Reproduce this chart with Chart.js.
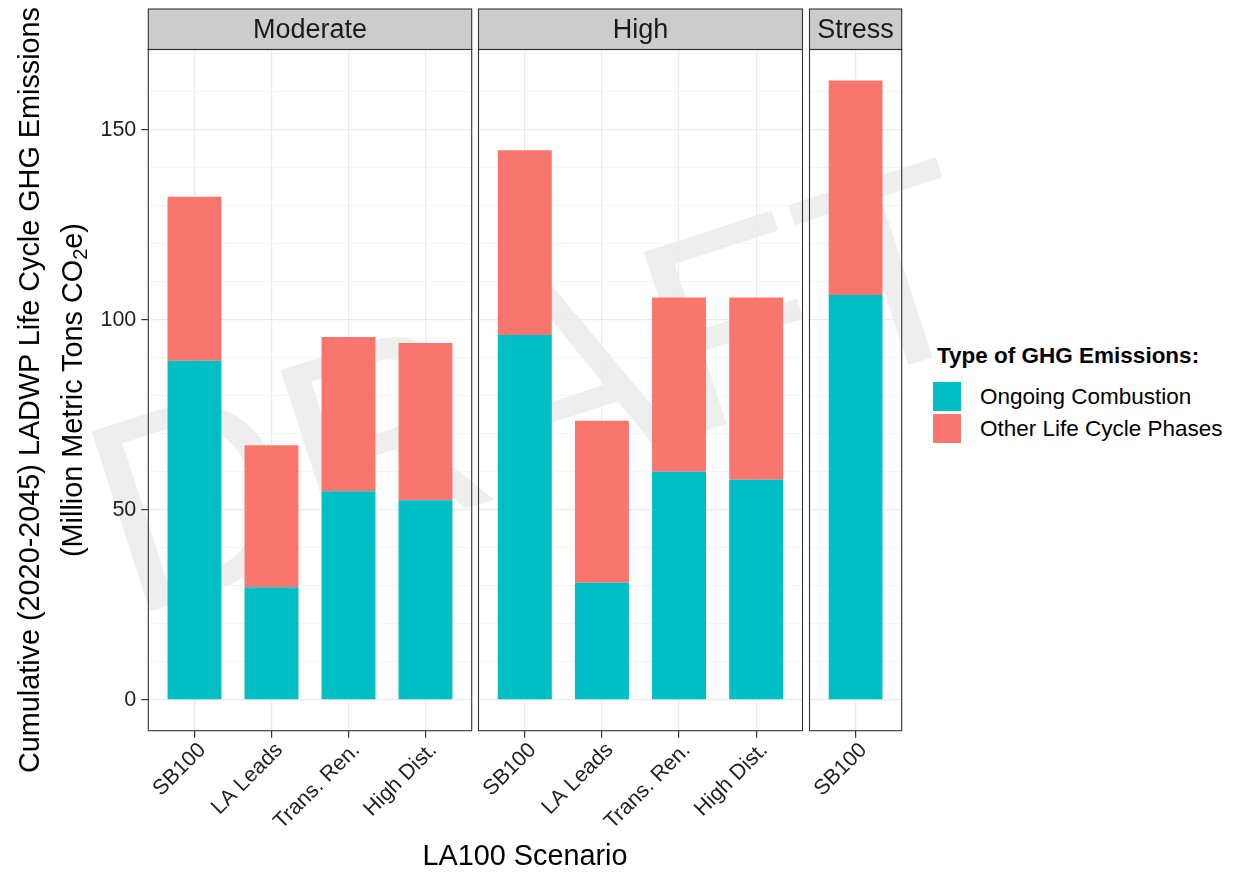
<!DOCTYPE html>
<html>
<head>
<meta charset="utf-8">
<script src="https://cdn.jsdelivr.net/npm/chart.js@4.4.1/dist/chart.umd.min.js"></script>
<style>
  body { margin: 0; width: 1236px; height: 872px; background: #fff; position: relative; overflow: hidden;
         font-family: "Liberation Sans", Arial, sans-serif; }
  canvas { position: absolute; top: 0; }
  #draft { position: absolute; left: 535px; top: 386px; transform: translate(-50%, -50%) rotate(-18deg);
           font-size: 275px; line-height: 1; color: #eeeeee; white-space: nowrap; }
  #ytitle { position: absolute; left: 51px; top: 390px; width: 900px; transform: translate(-50%, -50%) rotate(-90deg);
            text-align: center; font-size: 28.8px; line-height: 43px; color: #000; }
  #ytitle sub { font-size: 0.7em; line-height: 0; vertical-align: -0.25em; }
  #xtitle { position: absolute; left: 525px; top: 855px; transform: translate(-50%, -50%);
            font-size: 28.8px; line-height: 1; white-space: nowrap; }
  #legend-title { position: absolute; left: 937px; top: 345px; font-size: 22.5px; font-weight: bold; line-height: 22px; white-space: nowrap; }
  .sw { position: absolute; left: 933px; width: 28px; height: 29px; }
  .lab { position: absolute; left: 980px; font-size: 22.5px; line-height: 29px; white-space: nowrap; }
</style>
</head>
<body>
<div id="draft">DRAFT</div>
<canvas id="c1" width="480" height="872" style="left:0px"></canvas>
<canvas id="c2" width="340" height="872" style="left:470px"></canvas>
<canvas id="c3" width="120" height="872" style="left:790px"></canvas>
<div id="ytitle">Cumulative (2020-2045) LADWP Life Cycle GHG Emissions<br>(Million Metric Tons CO<sub>2</sub>e)</div>
<div id="xtitle">LA100 Scenario</div>
<div id="legend-title">Type of GHG Emissions:</div>
<div id="legend"></div>
<script>
// values (million metric tons CO2e)
const seriesNames = ['Ongoing Combustion', 'Other Life Cycle Phases'];
const seriesColors = ['#00BFC4', '#F8766D'];

const modLabels = ['SB100', 'LA Leads', 'Trans. Ren.', 'High Dist.'];
const modCombustion = [89.2, 29.6, 54.9, 52.5];
const modOther = [43.2, 37.4, 40.6, 41.4];

const highLabels = ['SB100', 'LA Leads', 'Trans. Ren.', 'High Dist.'];
const highCombustion = [96.0, 30.8, 60.0, 57.9];
const highOther = [48.6, 42.6, 45.9, 48.0];

const stressLabels = ['SB100'];
const stressCombustion = [106.5];
const stressOther = [56.5];

// y range like ggplot: 5% expansion either side of [0, max total]
const totals = [modCombustion, highCombustion, stressCombustion].flatMap((c, k) =>
  c.map((v, i) => v + [modOther, highOther, stressOther][k][i]));
const maxTotal = Math.max(...totals);
const yMin = -0.05 * maxTotal;
const yMax = 1.05 * maxTotal;

const FONT = '"Liberation Sans", Arial, sans-serif';
const STRIP_TOP = 9;

const stripPlugin = {
  id: 'strip',
  afterDraw(chart, args, opts) {
    const ctx = chart.ctx;
    const a = chart.chartArea;
    ctx.save();
    ctx.fillStyle = '#CCCCCC';
    ctx.fillRect(a.left, STRIP_TOP, a.right - a.left, a.top - STRIP_TOP);
    ctx.strokeStyle = '#333333';
    ctx.lineWidth = 1.1;
    ctx.strokeRect(a.left, STRIP_TOP, a.right - a.left, a.top - STRIP_TOP);
    ctx.strokeRect(a.left, a.top, a.right - a.left, a.bottom - a.top);
    ctx.fillStyle = '#1a1a1a';
    ctx.font = '27px ' + FONT;
    ctx.textAlign = 'center';
    ctx.textBaseline = 'middle';
    ctx.fillText(opts.title, (a.left + a.right) / 2, (STRIP_TOP + a.top) / 2 + 1.5);
    ctx.restore();
  }
};

const isMajor = c => c.tick && Math.round(c.tick.value) % 50 === 0;

function makePanel(id, title, labels, comb, other, showY, padL, padR) {
  const n = labels.length;
  const pts = arr => arr.map((v, i) => ({ x: i, y: v }));
  // ggplot bar width 0.7 of a category; a lone bar gets the whole 1.2-unit panel as its slot
  const barPct = n > 1 ? 0.7 : 0.7 / 1.2;
  return new Chart(document.getElementById(id), {
    type: 'bar',
    data: {
      datasets: [
        { label: seriesNames[0], data: pts(comb), backgroundColor: seriesColors[0], barPercentage: barPct, categoryPercentage: 1 },
        { label: seriesNames[1], data: pts(other), backgroundColor: seriesColors[1], barPercentage: barPct, categoryPercentage: 1 }
      ]
    },
    options: {
      responsive: false,
      animation: false,
      layout: { padding: { top: 49.5, left: padL, right: padR, bottom: 0 } },
      plugins: { legend: { display: false }, tooltip: { enabled: false }, strip: { title: title } },
      scales: {
        x: {
          type: 'linear', stacked: true, offset: false,
          min: -0.6, max: n - 0.4,
          afterBuildTicks: s => { s.ticks = labels.map((l, i) => ({ value: i })); },
          afterFit: s => { s.height = 141.3; s.paddingLeft = 0; s.paddingRight = 0; },
          ticks: {
            callback: v => labels[v], autoSkip: false, minRotation: 45, maxRotation: 45,
            font: { size: 21.5, family: FONT }, color: '#1f1f1f', padding: 0, labelOffset: 8
          },
          grid: { offset: false, color: '#EBEBEB', lineWidth: 1.2, tickColor: '#333333', tickLength: 7 },
          border: { display: false }
        },
        y: {
          stacked: true, min: yMin, max: yMax,
          afterBuildTicks: s => { s.ticks = s.ticks.filter(t => t.value >= 0); },
          afterFit: s => { s.width = showY ? 148.3 : 0; },
          ticks: {
            display: showY, stepSize: 10, includeBounds: false, autoSkip: false,
            callback: v => (Math.round(v) % 50 === 0 ? v : ''),
            font: { size: 21.5, family: FONT }, color: '#1f1f1f', padding: 5
          },
          grid: {
            color: c => (isMajor(c) ? '#EBEBEB' : '#F3F3F3'),
            lineWidth: c => (isMajor(c) ? 1.2 : 0.8),
            tickColor: c => (isMajor(c) ? '#333333' : 'rgba(0,0,0,0)'),
            drawTicks: showY, tickLength: 7
          },
          border: { display: false }
        }
      }
    },
    plugins: [stripPlugin]
  });
}

makePanel('c1', 'Moderate', modLabels, modCombustion, modOther, true, 0, 8.3);
makePanel('c2', 'High', highLabels, highCombustion, highOther, false, 8.5, 7.5);
makePanel('c3', 'Stress', stressLabels, stressCombustion, stressOther, false, 19.5, 8.3);

// legend keys
const legend = document.getElementById('legend');
seriesNames.forEach((name, i) => {
  const top = 382 + i * 31.5;
  const sw = document.createElement('div');
  sw.className = 'sw';
  sw.style.top = top + 'px';
  sw.style.background = seriesColors[i];
  legend.appendChild(sw);
  const lab = document.createElement('div');
  lab.className = 'lab';
  lab.style.top = top + 'px';
  lab.textContent = name;
  legend.appendChild(lab);
});
</script>
</body>
</html>
